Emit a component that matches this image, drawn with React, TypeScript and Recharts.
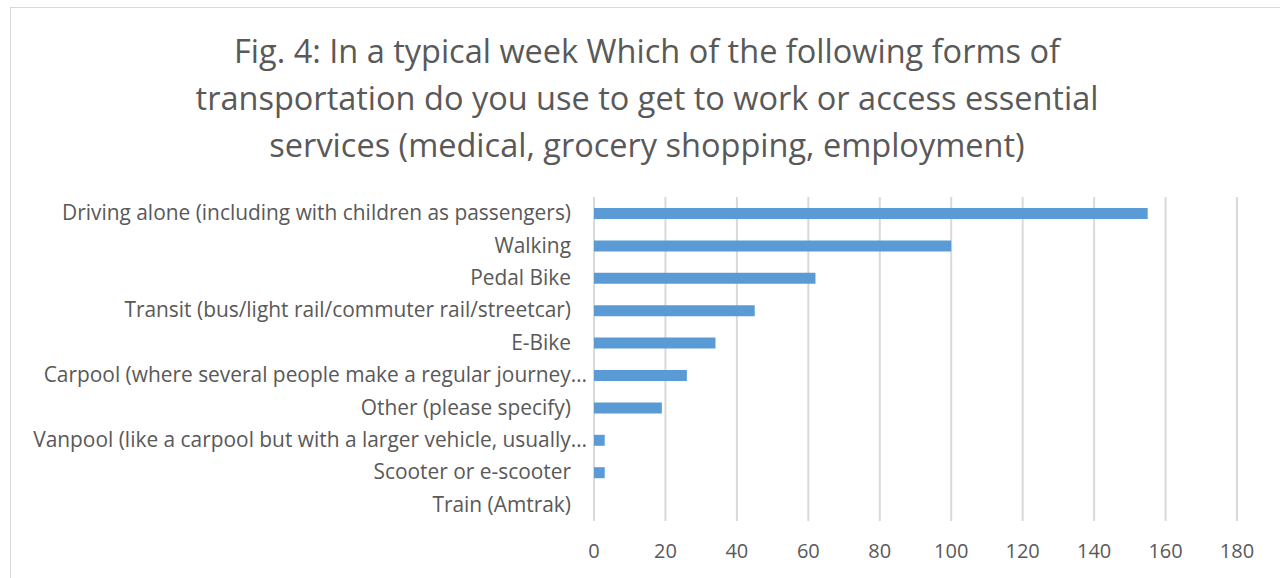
import { BarChart, Bar, XAxis, YAxis, CartesianGrid } from 'recharts'

const categories = [
  'Driving alone (including with children as passengers)',
  'Walking',
  'Pedal Bike',
  'Transit (bus/light rail/commuter rail/streetcar)',
  'E-Bike',
  'Carpool (where several people make a regular journey…',
  'Other (please specify)',
  'Vanpool (like a carpool but with a larger vehicle, usually…',
  'Scooter or e-scooter',
  'Train (Amtrak)',
]
const responses = [155, 100, 62, 45, 34, 26, 19, 3, 3, 0]
const xTicks = [0, 20, 40, 60, 80, 100, 120, 140, 160, 180]
const titleLines = [
  'Fig. 4: In a typical week Which of the following forms of',
  'transportation do you use to get to work or access essential',
  'services (medical, grocery shopping, employment)',
]

const data = categories.map((name, i) => ({ name, value: responses[i] }))
const FONT = '"Open Sans", Lato, sans-serif'
const GREY = '#595959'

// truncated labels hang their ellipsis past the normal right edge, like Excel does
function CategoryTick(props: any) {
  const { x, y, payload } = props
  const hang = String(payload.value).endsWith('…') ? 16 : 0
  return (
    <text x={x - 15 + hang} y={y} dy={7} textAnchor="end" fill={GREY} fontSize={20.9} fontFamily={FONT}>
      {payload.value}
    </text>
  )
}

export default function App() {
  return (
    <div style={{ position: 'absolute', left: 0, top: 0, width: 1280, height: 578, overflow: 'hidden', background: '#fff' }}>
      <div style={{ position: 'absolute', left: 10, top: 7, width: 1290, height: 620, border: '1.5px solid #d9d9d9', boxSizing: 'border-box' }} />
      <div style={{ position: 'absolute', left: 10, top: 27, width: 1274, textAlign: 'center', fontFamily: FONT, fontSize: 32.5, lineHeight: '47px', color: GREY }}>
        {titleLines.map((t) => (
          <div key={t}>{t}</div>
        ))}
      </div>
      <div style={{ position: 'absolute', left: 0, top: 0 }}>
        <BarChart
          width={1280}
          height={578}
          data={data}
          layout="vertical"
          margin={{ top: 197, right: 43, bottom: 0, left: 0 }}
        >
          <CartesianGrid horizontal={false} stroke="#d9d9d9" strokeWidth={2} />
          <XAxis
            type="number"
            domain={[0, 180]}
            ticks={xTicks}
            axisLine={false}
            tickLine={false}
            height={57}
            tick={{ fill: GREY, fontSize: 20, fontFamily: FONT }}
            tickMargin={17}
          />
          <YAxis
            type="category"
            dataKey="name"
            width={594}
            axisLine={false}
            tickLine={false}
            interval={0}
            tick={<CategoryTick />}
          />
          <Bar dataKey="value" fill="#5b9bd5" barSize={11} isAnimationActive={false} />
        </BarChart>
      </div>
    </div>
  )
}
